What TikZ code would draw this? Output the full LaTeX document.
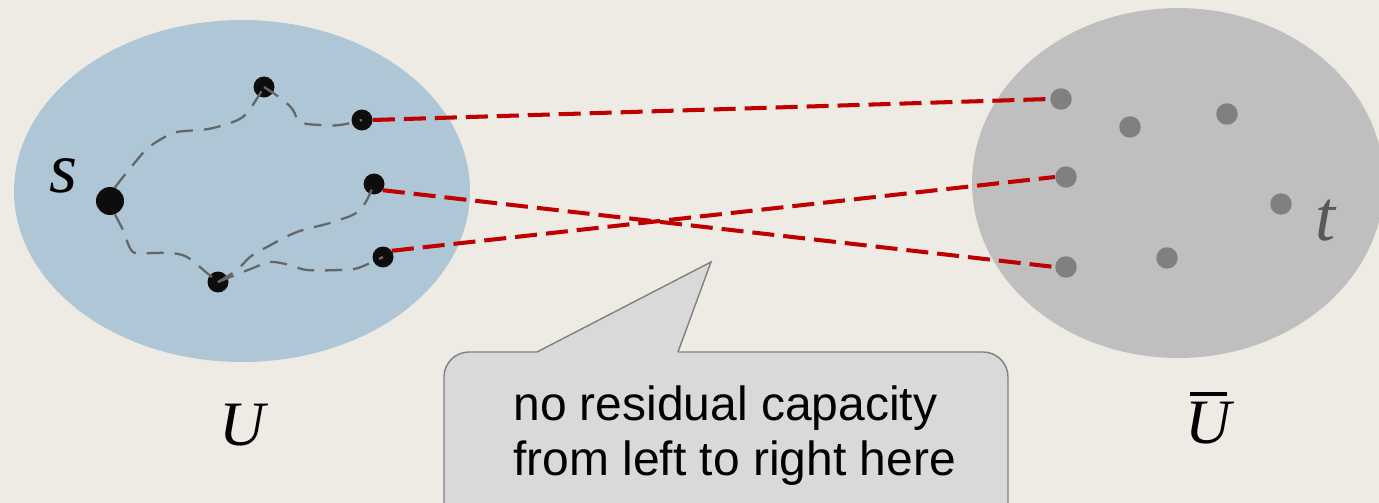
\documentclass[tikz,border=0pt]{standalone}
\usepackage{fontspec}
\usepackage{tikz}
\usetikzlibrary{positioning,shapes.geometric,calc}
\newfontfamily\notefont{Liberation Sans}
\newfontfamily\labfont{Liberation Serif}
\definecolor{paper}{HTML}{EEEBE4}
\definecolor{setblue}{HTML}{AEC6D5}
\definecolor{setgray}{HTML}{BFBFBF}
\definecolor{darkred}{HTML}{C00000}
\definecolor{notegray}{HTML}{D9D9D9}

\begin{document}
\begin{tikzpicture}[
      x=0.02cm, y=-0.02cm,
      set/.style={ellipse, inner sep=0},
      vtx/.style={circle, fill=black!95, inner sep=0, minimum size=0.42cm},
      far/.style={circle, fill=black!50, inner sep=0, minimum size=0.43cm},
      cut/.style={draw=darkred, line width=2.3pt, dash pattern=on 0.44cm off 0.18cm},
      resid/.style={draw=black!60, line width=1.3pt, dash pattern=on 0.34cm off 0.22cm},
      lab/.style={inner sep=0, font=\labfont\itshape\fontsize{36}{42}\selectfont},
      small lab/.style={lab, font=\labfont\itshape\fontsize{41}{46}\selectfont}
      ]
      \fill[paper] (0,0) rectangle (1379,503);
      \useasboundingbox (0,0) rectangle (1379,503);

      % the two sides of the cut
      \node[set, fill=setblue, minimum width=9.12cm, minimum height=6.84cm] (U) at (242,191) {};
      \node[set, fill=setgray, minimum width=8.24cm, minimum height=7.0cm] (UB) at (1178,183) {};

      % reachable side
      \node[vtx, minimum size=0.56cm] (S) at (110,201) {};
      \node[vtx] (LA) at (264,87) {};
      \node[vtx] (LB) at (362,120) {};
      \node[vtx] (LC) at (374,184) {};
      \node[vtx] (LD) at (383,257) {};
      \node[vtx] (LE) at (218,282) {};

      % other side
      \node[far] (RA) at (1061,99) {};
      \node[far] (RB) at (1130,127) {};
      \node[far] (RC) at (1227,114) {};
      \node[far] (RD) at (1066,177) {};
      \node[far] (RE) at (1281,204) {};
      \node[far] (RF) at (1066,267) {};
      \node[far] (RG) at (1167,258) {};

      \node[small lab] (SL) at (64,176) {s};
      \node[small lab, text=black!65] (TL) at (1325,221) {t};
      \node[lab] (UL) at (242,425) {U};
      \node[lab] (UBL) at (1208,418) {\vbox{\offinterlineskip
        \hbox{\kern0.1cm\vrule height 0.08cm depth 0pt width 0.74cm}\kern0.12cm\hbox{U}}};

      % residual paths
      \draw[resid] plot[smooth, tension=0.6] coordinates {(S.70) (123,177) (137,160) (148,148) (163,138) (177,132) (200,130) (213,128) (233,122) (247,113) (LA.center)};
      \draw[resid] plot[smooth, tension=0.6] coordinates {(LA.center) (283,100) (293,110) (300,122) (320,125) (340,125) (LB.center)};
      \draw[resid] plot[smooth, tension=0.6] coordinates {(S.-70) (123,230) (133,252) (152,253) (170,253) (187,257) (207,273) (LE.center)};
      \draw[resid] plot[smooth, tension=0.6] coordinates {(LE.center) (237,270) (250,257) (267,247) (297,232) (333,222) (360,210) (LC.center)};
      \draw[resid] plot[smooth, tension=0.6] coordinates {(LE.center) (253,268) (270,262) (290,265) (307,270) (340,270) (358,268) (LD.center)};

      % saturated edges
      \draw[cut] (LB.east) -- (RA.west);
      \draw[cut] (LC.-35) -- (RF.west);
      \draw[cut] (LD.35) -- (RD.west);

      % speech bubble
      \coordinate (tip) at (711,262);
      \draw[fill=notegray, draw=black!50, line width=0.8pt, rounded corners=0.5cm] (444,352) rectangle (1008,560);
      \fill[notegray] (537,356) -- (537,352) -- (tip) -- (678,352) -- (678,356) -- cycle;
      \draw[draw=black!50, line width=0.8pt] (537,352) -- (tip) -- (678,352);
      \node[font=\notefont\fontsize{27.3}{31.3}\selectfont, align=left, inner sep=0, anchor=west] (note) at (513,436) {no residual capacity\\from left to right here};
    \end{tikzpicture}
\end{document}
